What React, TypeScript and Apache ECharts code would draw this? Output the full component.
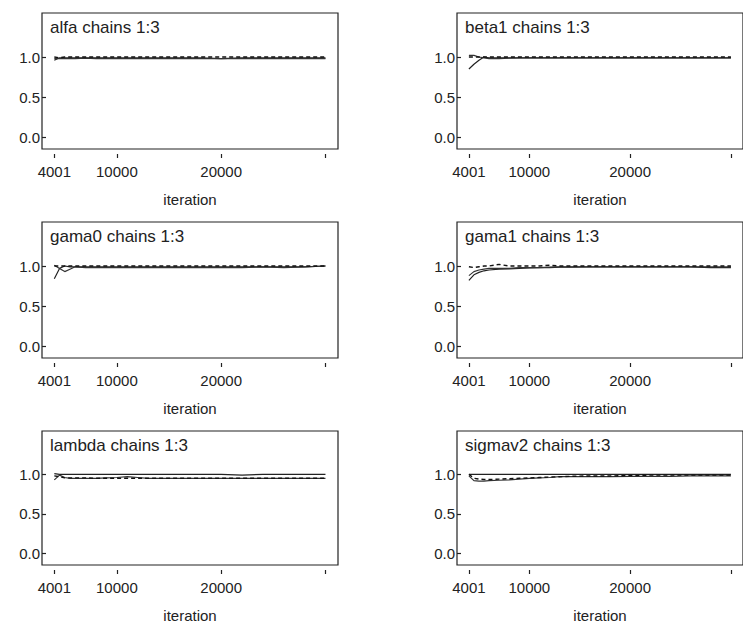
import React, { useEffect, useRef } from "react";
import * as echarts from "echarts";

const iterations = [4001, 4500, 5000, 5500, 6000, 7000, 8000, 9000, 10000, 11000, 12000, 13000, 14000, 16000, 18000, 20000, 22000, 24000, 26000, 28000, 30000];

const xTickValues = [4001, 10000, 20000, 30000];
const xLabelValues = [4001, 10000, 20000];
const yTickValues = [0, 0.5, 1.0];

const panelNames = ["alfa", "beta1", "gama0", "gama1", "lambda", "sigmav2"];

const alfaA = [0.96, 0.99, 0.99, 0.99, 0.99, 0.99, 0.99, 0.99, 0.99, 0.99, 0.99, 0.99, 0.99, 0.99, 0.99, 0.98, 0.99, 0.99, 0.99, 0.99, 0.99];
const alfaB = [0.98, 0.98, 0.98, 0.98, 0.98, 0.985, 0.98, 0.98, 0.98, 0.98, 0.98, 0.98, 0.98, 0.98, 0.98, 0.98, 0.98, 0.98, 0.98, 0.98, 0.98];
const alfaC = [1.0, 0.99, 1.0, 1.0, 1.0, 1.0, 1.0, 1.0, 1.0, 1.0, 1.0, 1.0, 1.0, 1.0, 1.0, 1.0, 1.0, 1.0, 1.0, 1.0, 1.0];

const beta1A = [0.85, 0.91, 0.96, 1.0, 0.99, 0.99, 0.99, 0.99, 0.99, 0.99, 0.99, 0.99, 0.99, 0.99, 0.99, 0.99, 0.99, 0.99, 0.99, 0.99, 0.99];
const beta1B = [1.02, 1.02, 1.0, 0.99, 0.98, 0.98, 0.985, 0.99, 0.99, 0.99, 0.99, 0.99, 0.99, 0.99, 0.99, 0.99, 0.99, 0.99, 0.99, 0.99, 0.99];
const beta1C = [1.0, 1.0, 1.0, 1.0, 1.0, 1.0, 1.0, 1.0, 1.0, 1.0, 1.0, 1.0, 1.0, 1.0, 1.0, 1.0, 1.0, 1.0, 1.0, 1.0, 1.0];

const gama0A = [0.84, 0.97, 1.0, 0.99, 0.99, 0.99, 0.99, 0.99, 0.99, 0.99, 0.99, 0.99, 0.99, 0.99, 0.99, 0.99, 0.99, 0.99, 0.99, 0.99, 1.0];
const gama0B = [1.01, 0.97, 0.93, 0.96, 0.99, 0.98, 0.98, 0.98, 0.98, 0.98, 0.98, 0.98, 0.98, 0.98, 0.98, 0.98, 0.98, 0.99, 0.98, 0.99, 1.0];
const gama0C = [1.0, 1.0, 1.0, 1.0, 1.0, 1.0, 1.0, 1.0, 1.0, 1.0, 1.0, 1.0, 1.0, 1.0, 1.0, 1.0, 1.0, 1.0, 1.0, 1.0, 1.0];

const gama1A = [0.82, 0.89, 0.92, 0.94, 0.95, 0.96, 0.965, 0.97, 0.975, 0.98, 0.98, 0.985, 0.985, 0.99, 0.99, 0.99, 0.99, 0.99, 0.99, 0.98, 0.98];
const gama1B = [0.88, 0.93, 0.95, 0.96, 0.97, 0.97, 0.97, 0.98, 0.98, 0.98, 0.985, 0.99, 0.99, 0.99, 0.99, 0.99, 0.99, 0.99, 0.99, 0.99, 0.99];
const gama1C = [0.99, 0.98, 0.99, 1.0, 1.0, 1.02, 1.0, 1.0, 1.0, 1.0, 1.01, 1.0, 1.0, 1.0, 1.0, 1.0, 1.0, 1.0, 1.0, 1.0, 1.0];

const lambdaA = [1.01, 1.0, 1.0, 1.0, 1.0, 1.0, 1.0, 1.0, 1.0, 1.0, 1.0, 1.0, 1.0, 1.0, 1.0, 1.0, 0.99, 1.0, 1.0, 1.0, 1.0];
const lambdaB = [0.93, 0.99, 0.96, 0.95, 0.95, 0.95, 0.95, 0.955, 0.96, 0.97, 0.96, 0.95, 0.95, 0.95, 0.95, 0.95, 0.95, 0.95, 0.95, 0.95, 0.95];
const lambdaC = [0.98, 0.97, 0.955, 0.955, 0.955, 0.955, 0.95, 0.95, 0.95, 0.95, 0.95, 0.95, 0.95, 0.95, 0.95, 0.95, 0.95, 0.95, 0.95, 0.95, 0.95];

const sigmav2A = [1.0, 1.0, 1.0, 1.0, 1.0, 1.0, 1.0, 1.0, 1.0, 1.0, 1.0, 1.0, 1.0, 1.0, 1.0, 1.0, 1.0, 1.0, 1.0, 1.0, 1.0];
const sigmav2B = [0.98, 0.92, 0.915, 0.915, 0.92, 0.925, 0.93, 0.94, 0.95, 0.955, 0.96, 0.97, 0.97, 0.97, 0.97, 0.975, 0.975, 0.975, 0.98, 0.98, 0.98];
const sigmav2C = [1.0, 0.95, 0.94, 0.935, 0.935, 0.94, 0.945, 0.95, 0.955, 0.96, 0.965, 0.97, 0.975, 0.98, 0.98, 0.985, 0.99, 0.99, 0.99, 0.99, 0.99];

const panelSeries = [
  [alfaA, alfaB, alfaC],
  [beta1A, beta1B, beta1C],
  [gama0A, gama0B, gama0C],
  [gama1A, gama1B, gama1C],
  [lambdaA, lambdaB, lambdaC],
  [sigmav2A, sigmav2B, sigmav2C],
];

const FONT = "Liberation Sans, Arial, sans-serif";
const lineStyles = [
  { color: "#222", width: 1.2, type: "solid" },
  { color: "#333", width: 1.2, type: "solid" },
  { color: "#111", width: 1.4, type: [4, 3] },
];

export default function App() {
  const ref = useRef<HTMLDivElement>(null);
  useEffect(() => {
    if (!ref.current) return;
    const chart = echarts.init(ref.current, undefined, { renderer: "svg" });
    const colLeft = [42, 457];
    const rowTop = [13, 222, 431];
    const W = 296;
    const H = 136;
    const grids: any[] = [];
    const xAxes: any[] = [];
    const yAxes: any[] = [];
    const series: any[] = [];
    const titles: any[] = [];
    panelNames.forEach((name, i) => {
      const col = i % 2;
      const row = Math.floor(i / 2);
      grids.push({
        left: colLeft[col],
        top: rowTop[row],
        width: W,
        height: H,
        show: true,
        borderColor: "#222",
        borderWidth: 1.2,
        backgroundColor: "#fff",
      });
      xAxes.push({
        type: "value",
        gridIndex: i,
        min: 2820,
        max: 31200,
        offset: 5,
        splitLine: { show: false },
        axisLine: { show: false, onZero: false },
        axisTick: {
          show: true,
          length: 4,
          customValues: xTickValues,
          lineStyle: { color: "#222", width: 1.2 },
        },
        axisLabel: {
          customValues: xLabelValues,
          formatter: (v: number) => String(v),
          fontFamily: FONT,
          fontSize: 15,
          color: "#222",
          margin: 10,
        },
        name: "iteration",
        nameLocation: "middle",
        nameGap: 38,
        nameTextStyle: { fontFamily: FONT, fontSize: 15, color: "#222" },
      });
      yAxes.push({
        type: "value",
        gridIndex: i,
        min: -0.15,
        max: 1.55,
        splitLine: { show: false },
        axisLine: { show: false, onZero: false },
        axisTick: {
          show: true,
          inside: true,
          length: 4,
          customValues: yTickValues,
          lineStyle: { color: "#222", width: 1.2 },
        },
        axisLabel: {
          customValues: yTickValues,
          formatter: (v: number) => v.toFixed(1),
          fontFamily: FONT,
          fontSize: 15,
          color: "#222",
          margin: 2,
        },
      });
      titles.push({
        text: name + " chains 1:3",
        left: colLeft[col] + 8,
        top: rowTop[row] + 6,
        padding: 0,
        textStyle: { fontFamily: FONT, fontSize: 17, fontWeight: "normal", color: "#222" },
      });
      panelSeries[i].forEach((vals, k) => {
        series.push({
          type: "line",
          xAxisIndex: i,
          yAxisIndex: i,
          showSymbol: false,
          silent: true,
          lineStyle: lineStyles[k],
          data: iterations.map((it, j) => [it, vals[j]]),
        });
      });
    });
    chart.setOption({
      animation: false,
      backgroundColor: "#fff",
      title: titles,
      grid: grids,
      xAxis: xAxes,
      yAxis: yAxes,
      series,
    });
    return () => chart.dispose();
  }, []);
  return (
    <div
      ref={ref}
      style={{ position: "absolute", left: 0, top: 0, width: 743, height: 624 }}
    />
  );
}
